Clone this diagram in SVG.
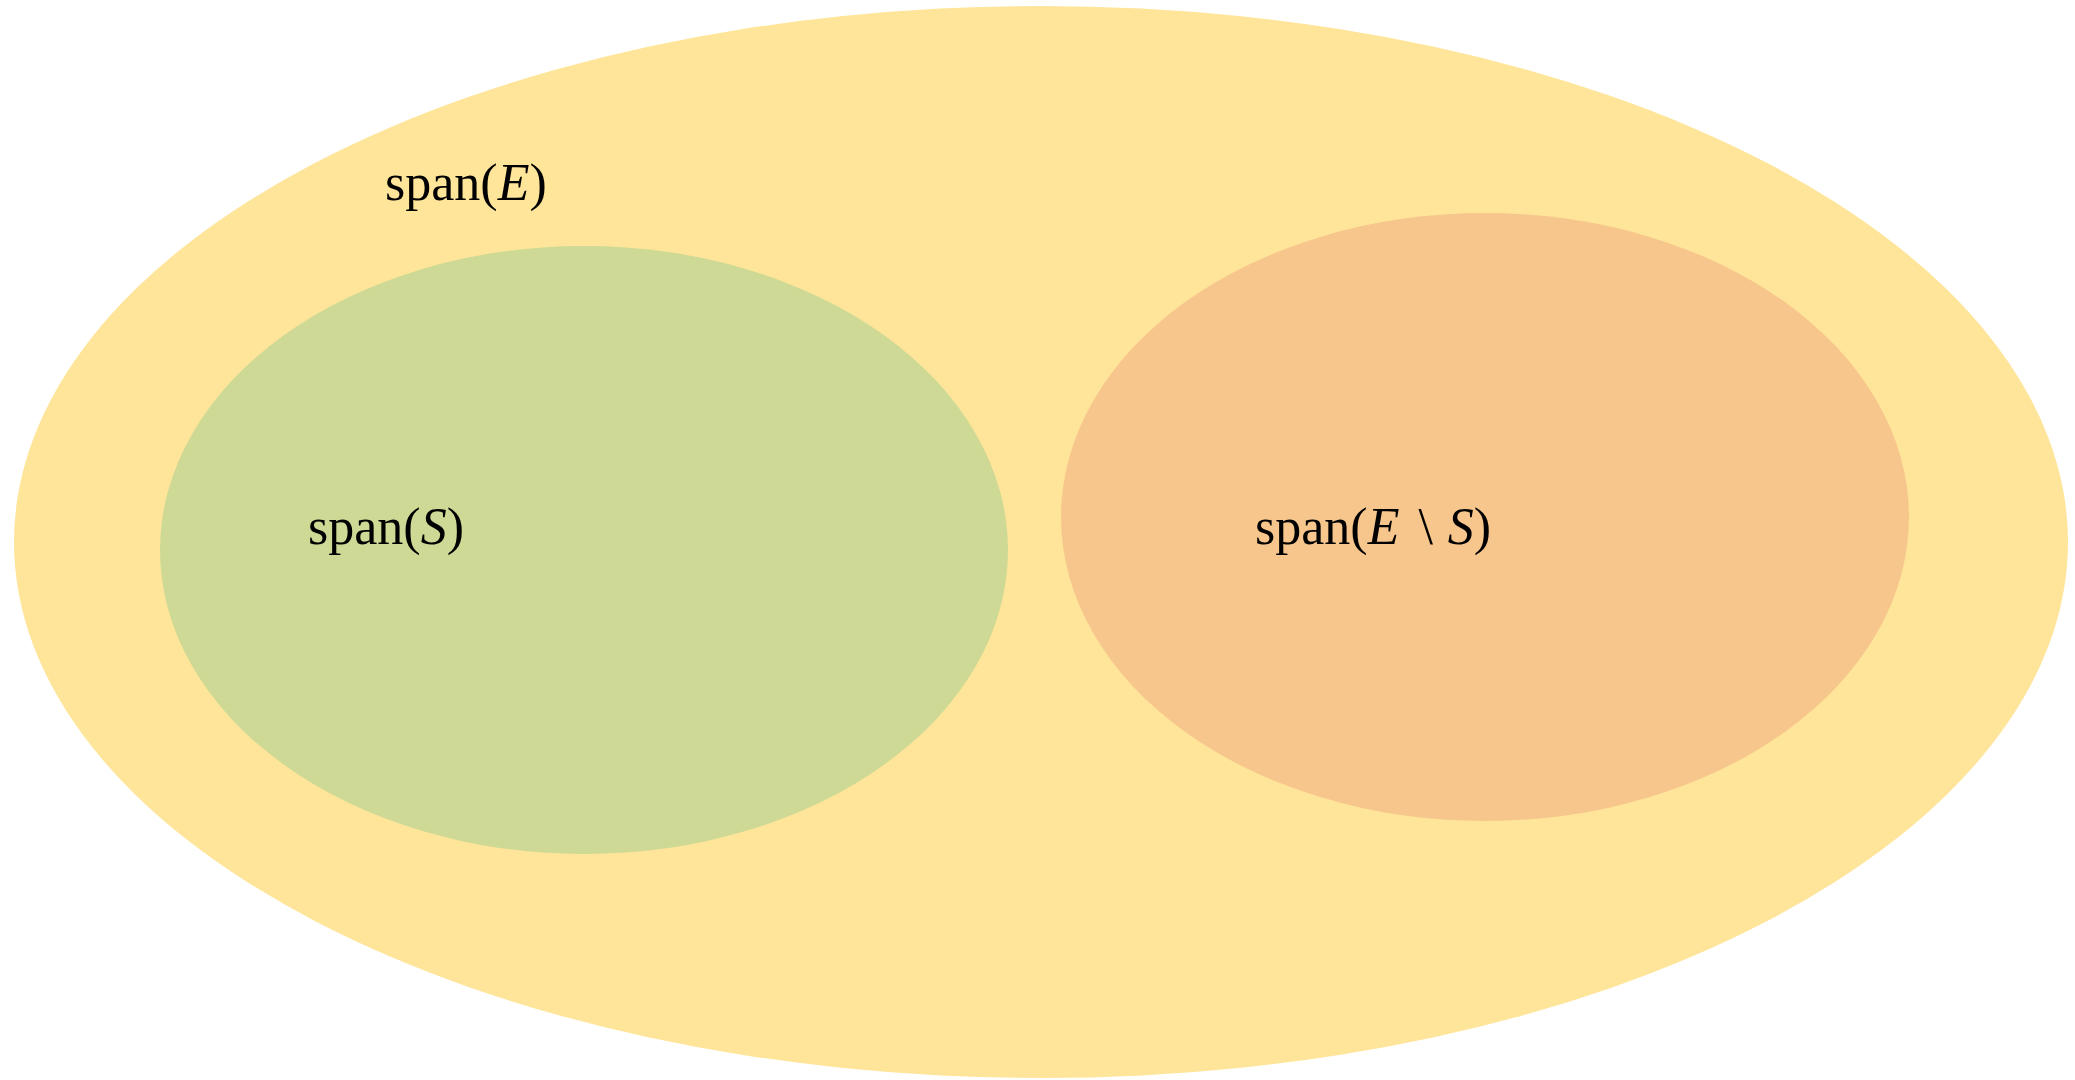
<svg xmlns="http://www.w3.org/2000/svg" width="2075" height="1080" viewBox="0 0 2075 1080">
<style>
.lbl{font-family:"Liberation Serif","Times New Roman",serif;font-size:52px;fill:#000}
.it{font-style:italic}
</style>
<rect width="2075" height="1080" fill="#ffffff"/>
<g id="spanE">
<ellipse cx="1041" cy="542" rx="1027" ry="536" fill="#FFE599"/>
<text class="lbl" x="385" y="200">span(<tspan class="it">E</tspan>)</text>
</g>
<g id="spanS">
<ellipse cx="584" cy="550" rx="424" ry="304" fill="#CDD994"/>
<text class="lbl" x="308" y="544">span(<tspan class="it">S</tspan>)</text>
</g>
<g id="spanEminusS">
<ellipse cx="1485" cy="517" rx="424" ry="304" fill="#F7C68C"/>
<text class="lbl" x="1255" y="544">span(<tspan class="it">E</tspan><tspan dx="6"> \ </tspan><tspan class="it" dx="2">S</tspan>)</text>
</g>
<g id="connectors"/>
</svg>
